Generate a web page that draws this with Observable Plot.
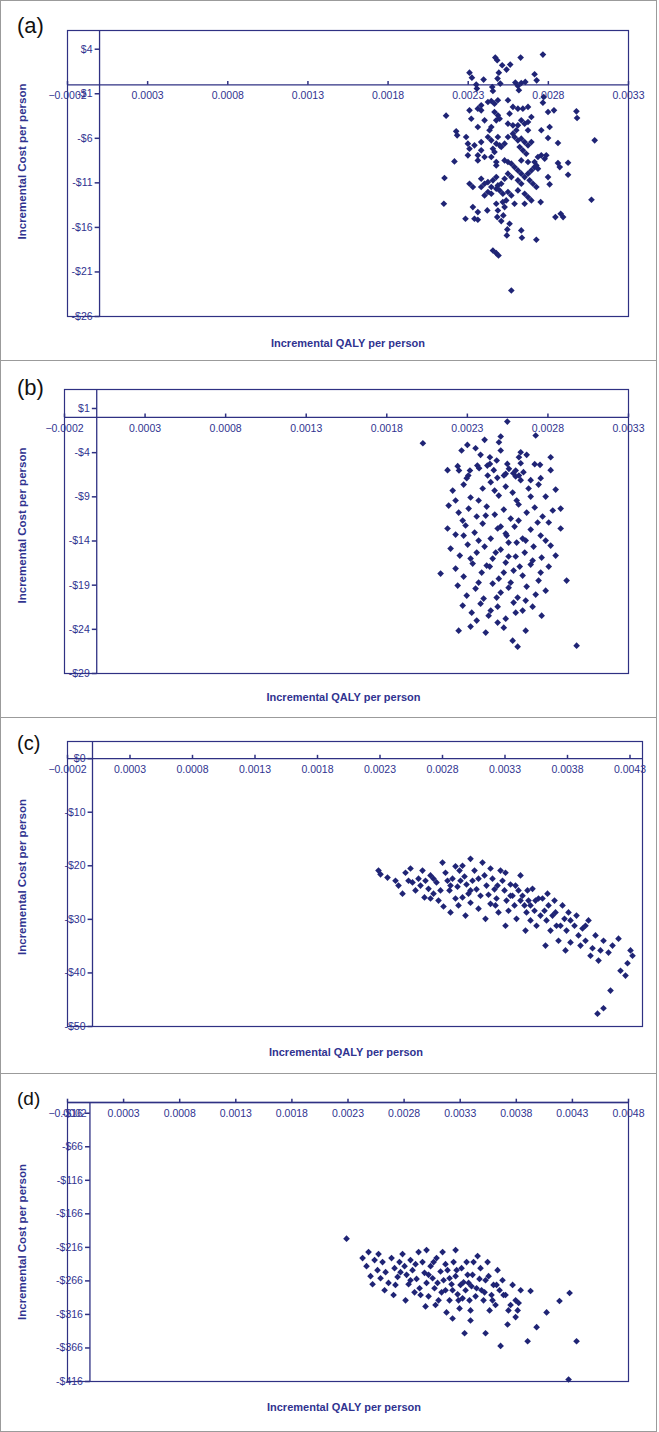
<!DOCTYPE html>
<html><head><meta charset="utf-8">
<script src="https://cdn.jsdelivr.net/npm/d3@7"></script>
<script src="https://cdn.jsdelivr.net/npm/@observablehq/plot@0.6"></script>
<style>
body{margin:0;background:#fff;font-family:"Liberation Sans",Arial,sans-serif;}
#fig{position:relative;width:659px;height:1432px;background:#fff;}
.panel{position:absolute;left:0;width:657px;border:1px solid #9b9b9b;box-sizing:border-box;}
.lbl{position:absolute;left:17px;line-height:1;color:#111;font-family:"Liberation Sans",Arial,sans-serif;}
.chart{position:absolute;left:0;}
</style></head><body><div id="fig"></div><script>
// ---------- data: [incremental QALY, incremental cost] ----------
const pointsA = [[0.002766,3.4],[0.002627,3.06],[0.002469,3.06],[0.002481,2.76],[0.002512,2.2],[0.002562,2.27],[0.002539,1.71],[0.002308,1.37],[0.002323,0.81],[0.002491,1.37],[0.002483,0.7],[0.002396,0.59],[0.00235,0.03],[0.002354,-0.42],[0.00245,-0.24],[0.002454,-0.69],[0.0025,0.14],[0.002594,0.25],[0.00261,-0.12],[0.002631,0.21],[0.002656,0.33],[0.002616,-0.61],[0.002714,1.19],[0.002727,0.51],[0.002771,-1.36],[0.002766,-2.0],[0.002798,-3.05],[0.002835,-2.86],[0.002975,-2.97],[0.002979,-3.72],[0.003089,-6.23],[0.002162,-3.46],[0.002225,-5.22],[0.002231,-5.67],[0.003069,-12.9],[0.002152,-10.46],[0.002148,-13.35],[0.002214,-8.59],[0.002283,-15.03],[0.002339,-15.03],[0.00236,-15.14],[0.002329,-13.72],[0.00236,-14.28],[0.002419,-14.09],[0.002481,-14.84],[0.002506,-15.29],[0.002519,-14.65],[0.002558,-15.59],[0.002544,-16.23],[0.002541,-16.9],[0.002631,-16.34],[0.002635,-17.16],[0.002725,-17.39],[0.002844,-14.84],[0.002877,-14.47],[0.002892,-14.84],[0.002454,-18.59],[0.002475,-18.89],[0.002489,-19.15],[0.002569,-23.08],[0.002752,-13.16],[0.002808,-11.17],[0.002798,-10.35],[0.00286,-8.78],[0.002871,-9.23],[0.002923,-8.74],[0.002923,-10.09],[0.00286,-6.53],[0.002798,-5.97],[0.002808,-4.73],[0.002756,-5.1],[0.002787,-7.91],[0.002777,-8.29],[0.002725,-9.04],[0.002735,-9.41],
[0.002381,-2.3],[0.002423,-1.92],[0.002444,-1.81],[0.002464,-2.11],[0.002485,-1.73],[0.00236,-2.67],[0.002548,-1.73],[0.002579,-2.48],[0.00261,-2.67],[0.002641,-2.67],[0.002673,-2.48],[0.002558,-3.23],[0.002308,-2.86],[0.002319,-3.8],[0.002381,-2.86],
[0.002464,-3.05],[0.002485,-3.42],[0.002496,-3.8],[0.002475,-3.98],[0.002402,-3.98],[0.00236,-4.73],[0.002433,-5.1],[0.002444,-4.73],[0.002548,-4.36],[0.002579,-4.54],[0.00261,-4.54],[0.002631,-3.98],[0.002652,-4.36],[0.002673,-4.17],[0.002694,-3.61],[0.002673,-5.1],
[0.002423,-5.85],[0.002444,-6.23],[0.002475,-6.6],[0.002496,-6.79],[0.002506,-6.98],[0.002454,-7.17],[0.002464,-7.54],[0.002527,-6.6],[0.002485,-5.85],[0.002381,-6.42],[0.002339,-6.79],[0.002298,-6.6],[0.002308,-7.17],[0.002287,-5.85],[0.002381,-7.35],[0.00236,-7.91],[0.002402,-8.1],[0.002298,-7.91],[0.002589,-5.85],[0.00261,-6.23],[0.002631,-6.04],[0.002652,-6.42],[0.002673,-6.79],[0.002621,-6.98],[0.002641,-7.35],[0.002662,-7.73],[0.002694,-6.42],[0.0026,-5.1],[0.002579,-5.48],[0.002548,-5.85],
[0.00236,-8.48],[0.002444,-8.1],[0.002475,-8.66],[0.002475,-9.04],[0.002527,-8.48],[0.002548,-8.66],[0.002569,-8.85],[0.002589,-9.23],[0.002631,-8.48],[0.002673,-8.66],[0.002714,-8.66],[0.002735,-8.1],[0.002756,-7.91],
[0.00261,-9.6],[0.002631,-9.97],[0.002652,-10.35],[0.002673,-9.97],[0.002694,-9.6],[0.002714,-9.23],[0.002683,-10.72],[0.002704,-11.1],[0.002725,-11.47],[0.00261,-10.72],[0.002631,-11.1],[0.002569,-10.35],[0.002548,-9.97],[0.002527,-10.54],[0.002475,-10.35],[0.002454,-10.72],[0.002423,-10.91],[0.002402,-11.1],[0.002381,-10.54],[0.002485,-11.29],[0.002506,-11.1],[0.002381,-11.47],[0.002444,-11.47],[0.002475,-11.66],
[0.002423,-12.03],[0.002402,-12.41],[0.002444,-12.22],[0.002496,-11.85],[0.002516,-12.22],[0.002548,-12.03],[0.002569,-12.41],[0.00261,-11.85],[0.002652,-12.22],[0.002673,-12.6],[0.002694,-12.97],[0.002652,-13.35],[0.002537,-12.97],[0.002516,-13.16],[0.002475,-13.35],[0.002527,-13.72],[0.002589,-13.35],[0.002485,-14.1],[0.002308,-11.1],[0.002329,-11.47]];

const pointsB = [[0.002548,-0.48],[0.002024,-2.93],[0.002724,-2.06],[0.0023,-3.12],[0.002407,-2.55],[0.002496,-2.82],[0.002507,-2.17],[0.002264,-3.76],[0.002351,-3.5],[0.002382,-4.25],[0.002507,-3.76],[0.00244,-4.52],[0.002482,-4.89],[0.002631,-3.95],[0.002668,-4.25],[0.00262,-4.52],[0.002817,-4.52],[0.002631,-5.2],[0.002751,-5.38],[0.002362,-5.46],[0.002373,-5.76],[0.002424,-5.46],[0.00244,-5.27],[0.002248,-6.02],[0.002316,-6.02],[0.002306,-6.59],[0.002548,-5.27],[0.002558,-5.83],[0.002538,-6.4],[0.002527,-6.59],[0.002585,-6.33],[0.0026,-6.7],[0.00262,-6.59],[0.002648,-6.21],[0.002486,-6.85],
[0.002177,-5.98],[0.00224,-5.53],[0.002296,-6.89],[0.002464,-5.98],[0.002718,-5.3],[0.002755,-6.89],[0.002817,-5.98],[0.002693,-7.11],
[0.002209,-8.29],[0.002277,-7.61],[0.00232,-9.08],[0.002395,-8.06],[0.002445,-7.34],[0.002495,-8.86],[0.002538,-7.84],[0.002581,-8.52],[0.002631,-7.11],[0.00268,-8.06],[0.002742,-7.61],[0.002786,-8.97],[0.002848,-8.18],[0.00237,-9.42],
[0.002184,-9.99],[0.002246,-10.78],[0.002308,-10.33],[0.002358,-11.23],[0.00242,-10.1],[0.00247,-11.01],[0.002526,-10.44],[0.002569,-11.46],[0.002618,-9.87],[0.002668,-10.78],[0.002718,-10.21],[0.002767,-11.23],[0.00283,-10.55],[0.002271,-11.69],
[0.002177,-12.59],[0.002227,-13.27],[0.002289,-12.25],[0.002345,-13.05],[0.002395,-12.03],[0.002445,-13.73],[0.002488,-12.59],[0.002544,-13.39],[0.002593,-12.37],[0.002643,-13.73],[0.002693,-12.71],[0.002755,-13.39],[0.002805,-11.91],[0.002879,-12.59],
[0.002196,-14.86],[0.002253,-15.65],[0.002302,-14.41],[0.002358,-15.31],[0.002407,-14.63],[0.002457,-15.99],[0.002507,-14.97],[0.002556,-15.76],[0.002606,-14.18],[0.002656,-15.31],[0.002711,-14.63],[0.002761,-15.88],[0.002817,-14.52],
[0.002134,-17.69],[0.002227,-17.12],[0.002277,-18.03],[0.002333,-16.56],[0.002389,-17.58],[0.002439,-16.9],[0.002495,-18.26],[0.002538,-16.44],[0.002587,-17.35],[0.002643,-17.92],[0.002693,-16.67],[0.002755,-17.58],[0.002805,-16.9],[0.002916,-18.48],
[0.00224,-19.05],[0.002296,-20.18],[0.002351,-19.39],[0.002401,-20.52],[0.002457,-18.82],[0.002507,-19.84],[0.002556,-19.28],[0.002612,-20.41],[0.002668,-19.16],[0.002724,-20.07],[0.002786,-19.62],
[0.002271,-21.31],[0.002327,-22.11],[0.002382,-21.09],[0.002432,-22.45],[0.002488,-21.43],[0.002538,-22.79],[0.002587,-20.97],[0.002643,-21.88],[0.002705,-21.43],[0.002761,-22.45],
[0.002246,-24.15],[0.00232,-23.69],[0.002414,-24.37],[0.002488,-23.24],[0.002526,-23.81],[0.002581,-25.28],[0.002612,-25.96],[0.002662,-24.15],[0.002978,-25.85],
[0.002426,-6.59],[0.0026,-6.02],[0.002469,-8.29],[0.002606,-9.42],[0.002693,-8.97],[0.002414,-11.12],[0.002507,-12.37],[0.002618,-11.69],[0.002736,-11.91],[0.00237,-13.95],[0.002556,-14.18],[0.002662,-13.95],[0.002476,-15.31],[0.0026,-15.76],[0.002705,-16.22],[0.00232,-15.99],[0.00242,-16.78],[0.002526,-17.58],[0.002625,-16.9],[0.00237,-18.71],[0.002569,-18.71],[0.002742,-18.48],[0.002482,-20.41],[0.002662,-20.75],[0.002445,-21.88],[0.0026,-22.11],[0.002358,-23.01],[0.002538,-13.16],[0.002277,-13.39],[0.002227,-9.42],[0.002786,-13.95],[0.002848,-15.65],[0.002879,-10.33]];

const pointsC = [[0.002288,-20.9],[0.002304,-21.6],[0.002424,-22.8],[0.002448,-23.7],[0.002504,-21.3],[0.002544,-20.5],[0.00256,-23.1],[0.002584,-24.6],[0.002608,-22.4],[0.00248,-25.2],
[0.00264,-20.9],[0.002664,-22.8],[0.002688,-24.3],[0.002704,-21.8],[0.002728,-25.2],[0.002752,-23.1],[0.002768,-26.5],[0.002656,-25.9],
[0.0028,-19.4],[0.002824,-21.3],[0.00284,-22.8],[0.002856,-24.6],[0.00288,-22.4],[0.002904,-26.1],[0.00292,-23.9],[0.002936,-20.9],[0.002808,-27.6],[0.002864,-28.7],
[0.00296,-20.0],[0.002976,-22.0],[0.002992,-23.5],[0.003008,-25.2],[0.003024,-26.9],[0.00304,-22.8],[0.003056,-20.9],[0.003072,-24.4],[0.003088,-28.0],[0.002984,-29.3],[0.00296,-25.9],
[0.00312,-19.4],[0.003136,-21.8],[0.003152,-23.7],[0.003168,-25.4],[0.003184,-27.1],[0.0032,-22.4],[0.003216,-24.4],[0.003232,-26.1],[0.003248,-28.7],[0.003144,-29.9],[0.003264,-20.9],
[0.00328,-22.8],[0.003296,-24.6],[0.003312,-26.5],[0.003328,-28.4],[0.003344,-23.5],[0.00336,-25.6],[0.003376,-27.4],[0.003392,-29.9],[0.003408,-24.6],[0.003304,-31.2],[0.003424,-21.8],
[0.00344,-25.6],[0.003456,-27.4],[0.003472,-28.7],[0.003488,-26.5],[0.003504,-30.2],[0.00352,-24.3],[0.003536,-28.4],[0.003552,-31.2],[0.003568,-26.1],[0.003464,-32.1],
[0.0036,-26.1],[0.003616,-28.4],[0.003632,-30.2],[0.003648,-27.4],[0.003664,-32.1],[0.00368,-29.3],[0.003696,-26.5],[0.003712,-31.2],[0.003728,-34.0],[0.003624,-34.9],
[0.00376,-27.4],[0.003776,-29.9],[0.003792,-32.1],[0.003808,-28.7],[0.003824,-34.3],[0.003856,-31.2],[0.003872,-29.3],[0.003888,-33.0],[0.003784,-35.8],
[0.00392,-31.7],[0.003944,-34.0],[0.003968,-30.2],[0.004,-35.4],[0.004024,-33.0],[0.004048,-37.7],[0.003984,-36.8],
[0.004088,-34.0],[0.004128,-36.2],[0.00416,-34.9],[0.004208,-33.6],[0.004224,-39.6],[0.004264,-40.5],[0.00428,-38.2],[0.004304,-35.8],[0.004144,-43.3],[0.004088,-46.6],[0.00404,-47.6],[0.00432,-36.8],
[0.00236,-22.2],[0.002528,-22.8],[0.002624,-23.7],[0.002728,-22.4],[0.002784,-24.6],[0.002904,-20.1],[0.002944,-22.8],[0.003024,-18.7],[0.003088,-22.4],[0.003104,-25.6],[0.003184,-20.5],[0.00324,-23.7],[0.003304,-21.3],[0.003344,-25.6],[0.003384,-23.7],[0.003424,-26.5],[0.00348,-24.6],[0.003544,-26.5],[0.003584,-29.3],[0.00364,-25.2],[0.003704,-28.7],[0.003744,-31.2],[0.003824,-30.2],[0.003904,-34.9],[0.003944,-31.2],[0.004064,-35.8],[0.003024,-24.6],[0.002928,-27.4],[0.003224,-27.4],[0.003504,-27.4],[0.002704,-26.1],[0.002864,-23.7]];

const pointsD = [[0.002287,-203],
[0.00243,-232],[0.002465,-244],[0.002501,-259],[0.002537,-235],[0.002563,-250],[0.002519,-271],[0.002572,-226],
[0.002608,-238],[0.002635,-253],[0.002661,-269],[0.002688,-232],[0.002715,-247],[0.002742,-260],[0.002626,-280],[0.002759,-238],[0.002706,-287],
[0.002786,-226],[0.002804,-244],[0.002822,-257],[0.00284,-271],[0.002857,-235],[0.002875,-250],[0.002893,-283],[0.002911,-263],[0.002929,-223],[0.002813,-295],[0.002938,-277],
[0.002964,-238],[0.002982,-254],[0.003,-269],[0.003018,-289],[0.003036,-244],[0.003054,-262],[0.003071,-277],[0.003089,-232],[0.003107,-295],[0.002991,-304],[0.003125,-252],
[0.003143,-223],[0.003152,-265],[0.003169,-280],[0.003187,-250],[0.003205,-295],[0.003223,-271],[0.003241,-238],[0.003259,-259],[0.003277,-286],[0.003294,-307],[0.003178,-313],[0.003232,-322],
[0.003312,-247],[0.00333,-268],[0.003348,-280],[0.003366,-257],[0.003383,-295],[0.003401,-274],[0.003419,-238],[0.003437,-289],[0.003455,-229],[0.003472,-263],[0.003339,-344],[0.003392,-310],
[0.00349,-280],[0.003508,-295],[0.003526,-265],[0.003544,-238],[0.003562,-310],[0.003579,-287],[0.003597,-272],[0.003615,-302],[0.003633,-250],[0.003526,-344],[0.00366,-363],[0.003651,-280],
[0.003677,-265],[0.003704,-287],[0.003722,-331],[0.003749,-302],[0.003767,-272],[0.003794,-295],[0.003794,-320],[0.003812,-310],[0.003821,-299],[0.003839,-280],
[0.003927,-281],[0.003981,-335],[0.00407,-313],[0.003901,-356],[0.004185,-296],[0.004275,-284],[0.004337,-356],[0.004266,-413],
[0.002483,-223],[0.00259,-262],[0.002723,-272],[0.002768,-253],[0.002857,-265],[0.002902,-241],[0.002947,-287],[0.003018,-257],[0.003063,-238],[0.003098,-269],[0.003134,-283],[0.003169,-241],[0.003205,-262],[0.003232,-280],[0.003268,-250],[0.003303,-272],[0.003321,-292],[0.003357,-238],[0.003375,-269],[0.00341,-257],[0.003446,-277],[0.003481,-247],[0.003517,-283],[0.003553,-259],[0.003588,-295],[0.003624,-272],[0.003686,-287],[0.00373,-310],[0.003392,-325],[0.00308,-302],[0.003285,-295],[0.003,-220],[0.003259,-220]];

// ---------- tick values ----------
const xTicksAB = [-0.0002,0.0003,0.0008,0.0013,0.0018,0.0023,0.0028,0.0033];
const xTicksC = [-0.0002,0.0003,0.0008,0.0013,0.0018,0.0023,0.0028,0.0033,0.0038,0.0043];
const xTicksD = [-0.0002,0.0003,0.0008,0.0013,0.0018,0.0023,0.0028,0.0033,0.0038,0.0043,0.0048];
const yTicksA = [4,-1,-6,-11,-16,-21,-26];
const yTicksB = [1,-4,-9,-14,-19,-24,-29];
const yTicksC = [0,-10,-20,-30,-40,-50];
const yTicksD = [-16,-66,-116,-166,-216,-266,-316,-366,-416];
const panelLabels = ["(a)","(b)","(c)","(d)"];
const xTitle = "Incremental QALY per person";
const yTitle = "Incremental Cost per person";

// ---------- layout ----------
const panels = [
  {label:panelLabels[0], data:pointsA, xTicks:xTicksAB, yTicks:yTicksA, xDomain:[-0.0002,0.0033], yDomain:[-26,6.1],
   top:0, height:360, m:[30,31,44,67], lblTop:15, lblSize:22, xtDy:30, xtDx:0, ytDy:-12},
  {label:panelLabels[1], data:pointsB, xTicks:xTicksAB, yTicks:yTicksB, xDomain:[-0.0002,0.0033], yDomain:[-29,3.15],
   top:360, height:357, m:[29,31,44,64], lblTop:17, lblSize:22, xtDy:27, xtDx:-3, ytDy:-6},
  {label:panelLabels[2], data:pointsC, xTicks:xTicksC, yTicks:yTicksC, xDomain:[-0.0002,0.0044], yDomain:[-50,3.2],
   top:717, height:356, m:[24,17,47,67], lblTop:16, lblSize:20, xtDy:29, xtDx:-9, ytDy:-7},
  {label:panelLabels[3], data:pointsD, xTicks:xTicksD, yTicks:yTicksD, xDomain:[-0.0002,0.0048], yDomain:[-416,0],
   top:1073, height:359, m:[29,31,51,67], lblTop:16, lblSize:19, xtDy:29, xtDx:-4, ytDy:0}
];

const lineColor = "#2f3183";
const textColor = "#303390";
const pointColor = "#1f2475";
const fmtY = v => (v < 0 ? "-$" : "$") + Math.abs(v);
const fmtX = d3.format(".4f");
const hTick = {draw(ctx, size){const r = Math.sqrt(size/Math.PI); ctx.moveTo(-r,0); ctx.lineTo(r,0);}};
const vTick = {draw(ctx, size){const r = Math.sqrt(size/Math.PI); ctx.moveTo(0,-r); ctx.lineTo(0,r);}};

const fig = document.getElementById("fig");
panels.forEach((p, i) => {
  const box = document.createElement("div");
  box.className = "panel";
  box.style.top = p.top + "px";
  box.style.height = (p.height + (i < 3 ? 1 : 0)) + "px";
  fig.appendChild(box);

  const [mt, mr, mb, ml] = p.m;
  const chart = Plot.plot({
    width: 659, height: p.height,
    marginTop: mt, marginRight: mr, marginBottom: mb, marginLeft: ml,
    x: {domain: p.xDomain, axis: null},
    y: {domain: p.yDomain, axis: null},
    style: {fontFamily: '"Liberation Sans", Arial, sans-serif', background: "transparent", overflow: "visible"},
    marks: [
      Plot.frame({stroke: lineColor, strokeWidth: 1.2}),
      Plot.ruleX([0], {stroke: lineColor, strokeWidth: 1.3}),
      Plot.ruleY([0], {stroke: lineColor, strokeWidth: 1.3}),
      Plot.dot(p.yTicks, {x: () => 0, y: d => d, symbol: hTick, r: 2.4, stroke: lineColor, fill: "none", dx: -2.5}),
      Plot.text(p.yTicks, {x: () => 0, y: d => d, text: fmtY, textAnchor: "end", dx: -7, fill: textColor, fontSize: 10.5}),
      Plot.dot(p.xTicks, {x: d => d, y: () => 0, symbol: vTick, r: 1.8, stroke: lineColor, fill: "none", dy: -2}),
      Plot.text(p.xTicks, {x: d => d, y: () => 0, text: fmtX, dy: 11, fill: textColor, fontSize: 10.5}),
      Plot.dot(p.data, {x: d => d[0], y: d => d[1], symbol: "diamond2", r: 3, fill: pointColor}),
      Plot.text([xTitle], {frameAnchor: "bottom", dy: p.xtDy, dx: p.xtDx, fill: textColor, fontSize: 11, fontWeight: "bold"}),
      Plot.text([yTitle], {frameAnchor: "left", textAnchor: "middle", dx: 22 - ml, dy: p.ytDy, rotate: -90, fill: textColor, fontSize: 11.5, fontWeight: "bold"})
    ]
  });
  chart.classList.add("chart");
  chart.style.top = p.top + "px";
  fig.appendChild(chart);

  const lbl = document.createElement("div");
  lbl.className = "lbl";
  lbl.style.top = (p.top + p.lblTop) + "px";
  lbl.style.fontSize = p.lblSize + "px";
  lbl.textContent = p.label;
  fig.appendChild(lbl);
});
</script></body></html>
